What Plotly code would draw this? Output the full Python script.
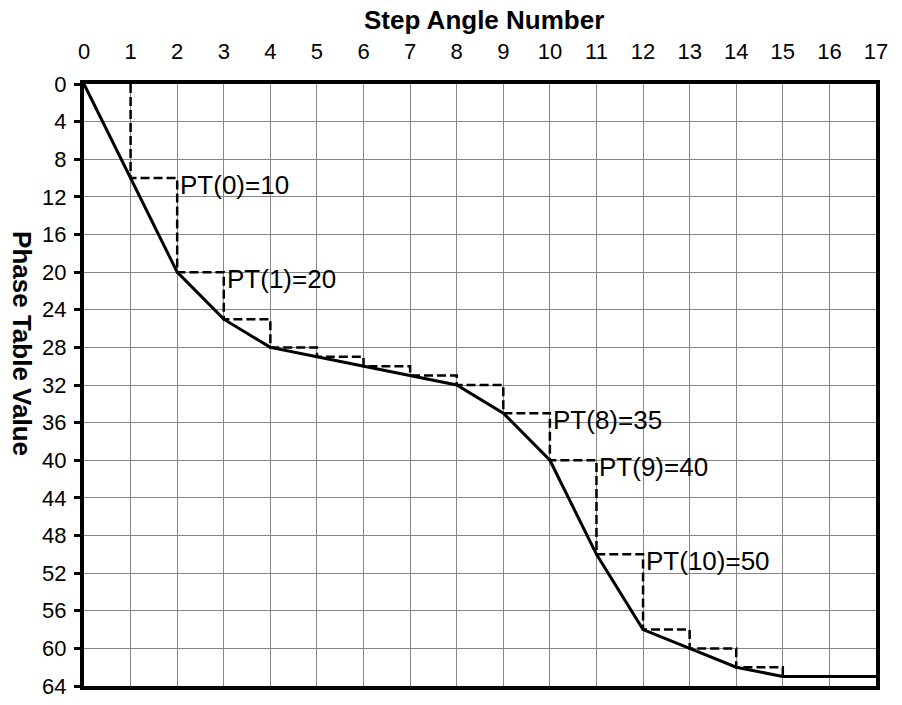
import plotly.graph_objects as go

# Data
steps = list(range(0, 18))
phase_values = [0, 10, 20, 25, 28, 29, 30, 31, 32, 35, 40, 50, 58, 60, 62, 63, 63, 63]
x_ticks = list(range(0, 18))
y_ticks = list(range(0, 65, 4))
labelled_indices = [0, 1, 8, 9, 10]

FONT = "Arial, Liberation Sans, sans-serif"

fig = go.Figure()

# dashed staircase (phase table)
fig.add_trace(go.Scatter(
    x=steps[1:], y=phase_values[:-1],
    mode="lines", line=dict(color="black", width=2.5, dash="9px,4px", shape="vh"),
    showlegend=False, hoverinfo="skip"))

# solid curve
fig.add_trace(go.Scatter(
    x=steps, y=phase_values,
    mode="lines", line=dict(color="black", width=3),
    showlegend=False))

annotations = []
for k in labelled_indices:
    annotations.append(dict(
        x=steps[k + 2], y=phase_values[k + 1], xref="x", yref="y",
        text=f"PT({k})={phase_values[k + 1]}", showarrow=False,
        xanchor="left", yanchor="middle", xshift=1, yshift=-7,
        font=dict(family=FONT, size=26, color="black")))

annotations.append(dict(
    x=0.505, y=1.106, xref="paper", yref="paper", text="<b>Step Angle Number</b>",
    showarrow=False, xanchor="center", yanchor="middle",
    font=dict(family=FONT, size=26, color="black")))
annotations.append(dict(
    x=-0.0783, y=0.568, xref="paper", yref="paper", text="<b>Phase Table Value</b>",
    showarrow=False, xanchor="center", yanchor="middle", textangle=90,
    font=dict(family=FONT, size=26, color="black")))

fig.update_layout(
    width=902, height=705,
    margin=dict(l=84, r=26, t=84, b=19, autoexpand=False),
    paper_bgcolor="white", plot_bgcolor="white",
    annotations=annotations,
    showlegend=False,
)

fig.update_xaxes(
    side="top", range=[0, 17], tickmode="array", tickvals=x_ticks,
    ticktext=[str(v) for v in x_ticks],
    showgrid=True, gridcolor="#868686", gridwidth=1,
    showline=True, linecolor="black", linewidth=4, mirror=True,
    ticks="", ticklabelstandoff=12, automargin=False, ticklabeloverflow="allow",
    tickfont=dict(family=FONT, size=22, color="black"),
    zeroline=False,
)
fig.update_yaxes(
    range=[64, 0], tickmode="array", tickvals=y_ticks,
    ticktext=[str(v) for v in y_ticks],
    showgrid=True, gridcolor="#868686", gridwidth=1,
    showline=True, linecolor="black", linewidth=4, mirror=True,
    ticks="outside", ticklen=6, tickwidth=3, tickcolor="black",
    ticklabelstandoff=3, automargin=False, ticklabeloverflow="allow",
    tickfont=dict(family=FONT, size=22, color="black"),
    zeroline=False,
)

# remove the browser's default 8px body margin so the 902x705 figure fills the window
fig.write_html("out.html", config={"displayModeBar": False},
               post_script="document.body.style.margin='0';")
